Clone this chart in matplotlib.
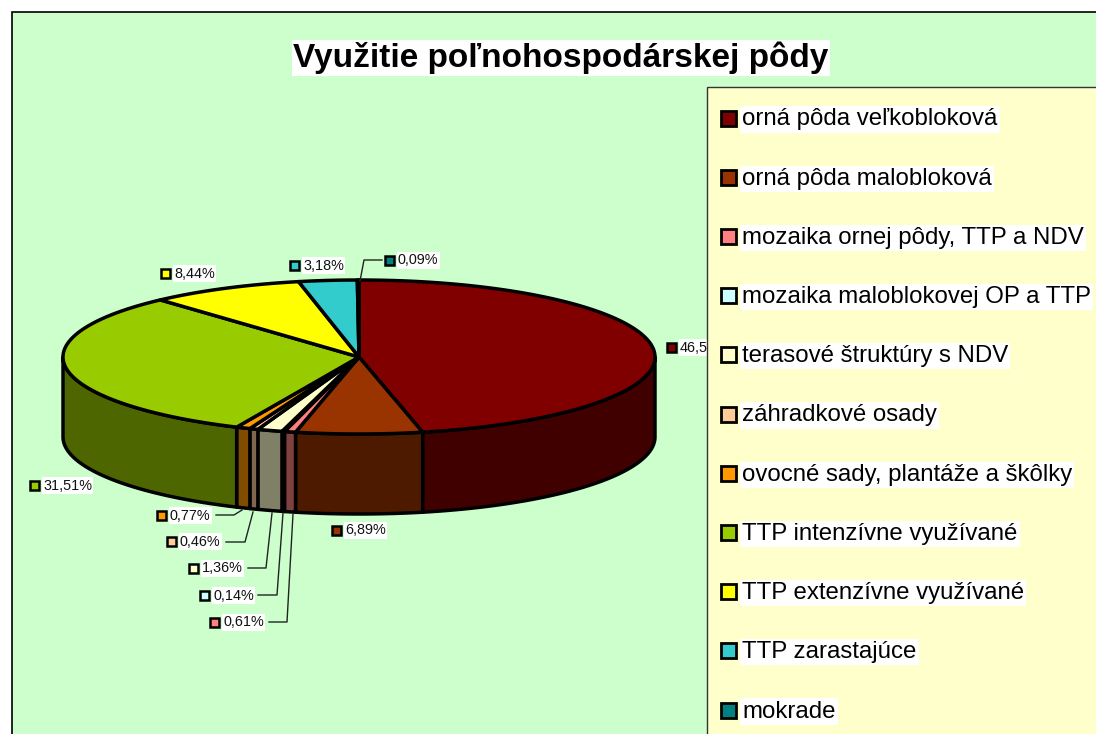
import numpy as np
import matplotlib
matplotlib.use("Agg")
import matplotlib.pyplot as plt
from matplotlib.patches import Polygon, Rectangle

categories = ["orná pôda veľkobloková", "orná pôda malobloková", "mozaika ornej pôdy, TTP a NDV",
              "mozaika maloblokovej OP a TTP", "terasové štruktúry s NDV", "záhradkové osady",
              "ovocné sady, plantáže a škôlky", "TTP intenzívne využívané", "TTP extenzívne využívané",
              "TTP zarastajúce", "mokrade"]
values = [46.55, 6.89, 0.61, 0.14, 1.36, 0.46, 0.77, 31.51, 8.44, 3.18, 0.09]
value_labels = ["46,55%", "6,89%", "0,61%", "0,14%", "1,36%", "0,46%", "0,77%", "31,51%", "8,44%", "3,18%", "0,09%"]
colors = ["#800000", "#993300", "#FF8080", "#CCFFFF", "#FFFFCC", "#FFCC99", "#FF9900", "#99CC00", "#FFFF00", "#33CCCC", "#008080"]
title = "Využitie poľnohospodárskej pôdy"

plt.rcParams['font.family'] = ['Liberation Sans', 'DejaVu Sans']
fig = plt.figure(figsize=(10.96, 7.34), dpi=100)
ax = fig.add_axes([0, 0, 1, 1])
ax.set_xlim(0, 1096); ax.set_ylim(734, 0); ax.axis('off')

ax.add_patch(Rectangle((12, 12), 1100, 740, fc="#CCFFCC", ec="black", lw=1.2, zorder=0))

cx, cy, rx, ry, depth = 359, 357, 296, 77, 80
def pt(frac, dy=0):
    a = 2*np.pi*frac
    return cx + rx*np.sin(a), cy - ry*np.cos(a) + dy

def darker(c):
    if c == "#800000":
        return (0.25, 0, 0)
    return tuple(v*0.5 for v in matplotlib.colors.to_rgb(c))

fr = np.cumsum([0] + values) / sum(values)
# sides (front half only)
for i, c in enumerate(colors):
    a, b = max(fr[i], 0.25), min(fr[i+1], 0.75)
    if b <= a:
        continue
    t = np.linspace(a, b, 60)
    x, y = pt(t)
    xy = np.r_[np.c_[x, y], np.c_[x[::-1], y[::-1]+depth]]
    ax.add_patch(Polygon(xy, closed=True, fc=darker(c), ec="black", lw=2.5, joinstyle="round", zorder=2))
# top faces
for i, c in enumerate(colors):
    t = np.linspace(fr[i], fr[i+1], 120)
    x, y = pt(t)
    xy = np.r_[[[cx, cy]], np.c_[x, y]]
    ax.add_patch(Polygon(xy, closed=True, fc=c, ec="black", lw=2.5, joinstyle="round", zorder=3))

# data labels: left edge of key, centre y
label_pos = [(666, 347), (331, 530), (209, 622), (199, 595), (188, 568), (166, 541), (156, 515), (29, 485), (160, 273), (289, 265), (384, 260)]
for (x0, y0), s, c in zip(label_pos, value_labels, colors):
    ax.add_patch(Rectangle((x0+1, y0-4.5), 9, 9, fc=c, ec="black", lw=1.8, zorder=5))
    ax.text(x0+14, y0+0.5, s, fontsize=10.4, color="#111111", va="center", ha="left", zorder=5,
            bbox=dict(fc="white", ec="none", pad=1.0))

# leader lines
leaders = [([216, 234, 242], [515, 515, 510]), ([226, 245, 253], [542, 542, 512]),
           ([248, 266, 272], [568, 568, 513]), ([258, 277, 283], [595, 595, 513]),
           ([269, 287, 293], [622, 622, 514]), ([382, 364, 360], [260, 260, 281])]
for xs, ys in leaders:
    ax.plot(xs, ys, color="#222222", lw=1.0, zorder=4)

ax.text(561, 58, title, fontsize=24, fontweight="bold", color="black", ha="center", va="center", zorder=6,
        bbox=dict(fc="white", ec="none", pad=1))

# legend
ax.add_patch(Rectangle((707, 87), 500, 700, fc="#FFFFCC", ec="#333333", lw=1, zorder=7))
for i, (s, c) in enumerate(zip(categories, colors)):
    y = 118 + i*59.2
    ax.add_patch(Rectangle((721, y-7.5), 15, 15, fc=c, ec="black", lw=2.0, zorder=8))
    ax.text(742, y+1.5, s, fontsize=17.3, color="black", va="center", ha="left", zorder=8,
            bbox=dict(fc="white", ec="none", pad=1.5))

fig.savefig("out.png", dpi=100)
